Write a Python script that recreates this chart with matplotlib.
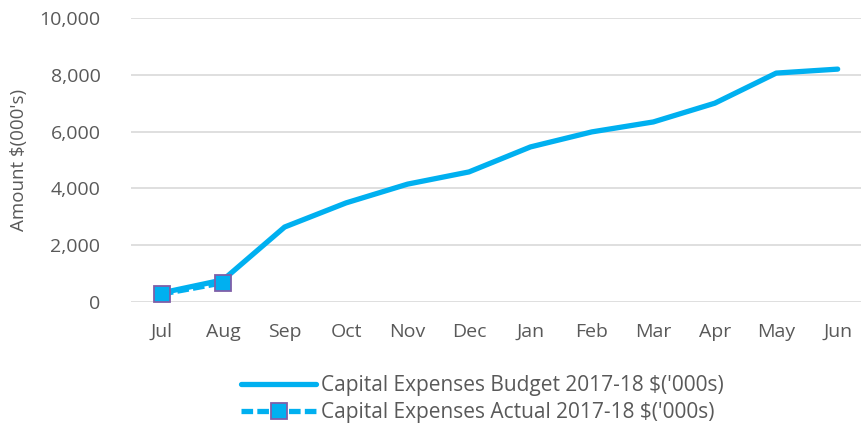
import matplotlib
matplotlib.use("Agg")
import matplotlib.pyplot as plt
from matplotlib.ticker import FuncFormatter

months = ["Jul", "Aug", "Sep", "Oct", "Nov", "Dec", "Jan", "Feb", "Mar", "Apr", "May", "Jun"]
budget = [320, 780, 2640, 3490, 4150, 4580, 5460, 5990, 6340, 7000, 8060, 8200]
actual = [280, 680]

budget_label = "Capital Expenses Budget 2017-18 $('000s)"
actual_label = "Capital Expenses Actual 2017-18 $('000s)"
y_label = "Amount $(000's)"

plt.rcParams["font.family"] = ["Open Sans", "DejaVu Sans"]
text_color = "#595959"
line_color = "#00B0F0"

fig = plt.figure(figsize=(8.61, 4.32), dpi=100)
ax = fig.add_axes([131 / 861, 1 - 302 / 432, 730 / 861, 284 / 432])

x = list(range(len(months)))
ax.plot(x, budget, color=line_color, lw=3.8, solid_capstyle="round",
        solid_joinstyle="round", label=budget_label, zorder=3)
ax.plot(x[:len(actual)], actual, color=line_color, lw=3.8, ls=(0, (2.2, 0.8)),
        marker="s", markersize=11, markerfacecolor=line_color,
        markeredgecolor="#7F5FA8", markeredgewidth=1.3,
        label=actual_label, zorder=4)

ax.set_ylim(0, 10000)
ax.set_xlim(-0.5, 730 / 61.45 - 0.5)
ax.set_yticks(range(0, 10001, 2000))
ax.yaxis.set_major_formatter(FuncFormatter(lambda v, p: f"{int(v):,}"))
ax.set_xticks(x)
ax.set_xticklabels(months)
ax.grid(axis="y", color="#D9D9D9", lw=1.2)
ax.set_axisbelow(True)
for s in ax.spines.values():
    s.set_visible(False)
ax.tick_params(axis="both", length=0, labelsize=14, labelcolor=text_color)
ax.tick_params(axis="x", pad=15)
ax.tick_params(axis="y", pad=22)
ax.set_ylabel(y_label, fontsize=13.5, color=text_color, labelpad=8)

leg = fig.legend(loc="upper left", bbox_to_anchor=(241 / 861, 1 - 375 / 432),
                 frameon=False, fontsize=15, labelcolor=text_color,
                 handlelength=3.6, handletextpad=0.25, labelspacing=0.3,
                 borderaxespad=0, borderpad=0)

fig.savefig("out.png", dpi=100)
